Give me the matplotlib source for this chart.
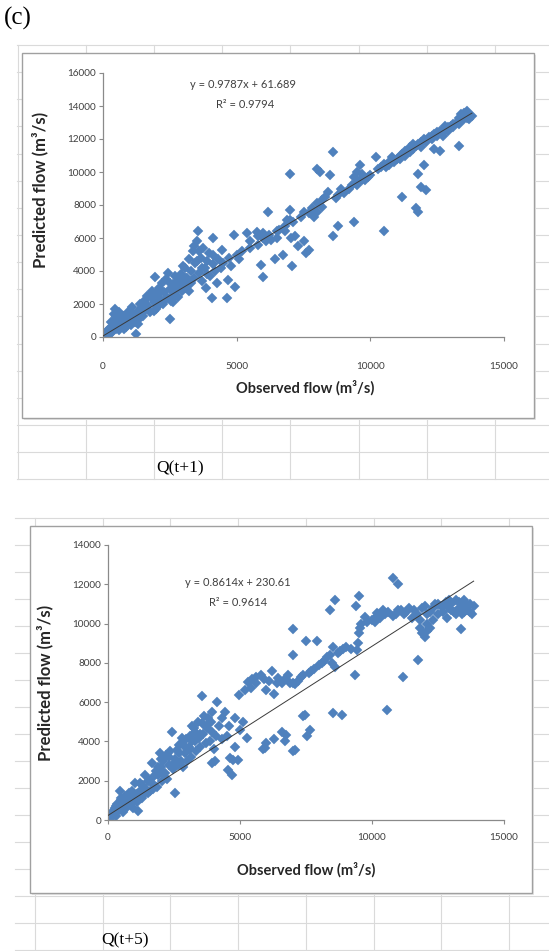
import matplotlib
matplotlib.use("Agg")
import matplotlib.pyplot as plt
from matplotlib.patches import Rectangle

# ---------------- data: Q(t+1) ----------------
obs1 = [50,100,150,200,250,300,350,400,420,450,480,500,550,600,650,700,750,800,850,900,950,1000,1050,1100,1150,1200,1250,1300,1350,1400,1450,1500,
        1550,1600,1650,1700,1750,1800,1850,1900,1950,2000,2050,2100,2150,2200,2250,2300,2350,2400,2450,2500,2500,2550,2600,2650,2700,2750,2800,2850,2900,2950,3000,
        3050,3100,3150,3200,3250,3300,3350,3400,3450,3500,3550,3600,3650,3700,3750,3800,3850,3900,3950,4000,4070,4100,4130,4200,4250,4300,4400,4450,4500,4630,4690,4700,4800,4900,4940,5000,5100,
        5200,5370,5500,5750,5800,5900,6000,6000,6100,6185,6200,6300,6430,6500,6600,6740,6800,6900,7000,7000,7050,7060,7100,7200,7300,7400,7500,7600,7700,7700,7800,7900,8000,8000,8100,8200,
        8300,8400,8500,8600,8600,8700,8800,8900,9000,9300,9400,9400,9500,9550,9600,9650,9700,9800,10000,10200,10300,10500,10500,10600,10700,10800,
        11000,11100,11200,11200,11300,11400,11500,11600,11700,11700,11800,11800,11800,11900,11900,12000,12000,12100,12100,12200,12300,12400,12400,12500,12600,12600,12700,12800,12900,13000,13100,13200,13300,13300,13400,13500,13600,13700,13800,
        300,500,700,900,1100,1300,1500,1700,1900,2100,2300,2500,2700,2900,3100,3300,3500,3700,3900,4100,3400,3600,3200,2600,2000,1200,800,600,2800,3000,
        5500,6000,6500,7000,7500,8000,5800,6800,8200,8800,9200,9500,9700,9900,
        10400,10900,11300,11500,11900,12100,12300,12500,12700,12900,13100,13300,13500,13700,13400,13600,12800,11600,11100,10700]
pred1 = [100,300,50,400,200,600,300,900,1400,1700,1200,500,800,400,1000,700,1300,900,600,1200,1500,1000,700,1800,1300,900,200,1600,1100,2000,1500,1300,
         2200,1700,2500,1900,1500,2400,2800,2100,3650,2600,1900,3000,2300,3300,2000,2700,3500,2400,3900,1100,2900,2200,3200,2600,3700,2900,2400,3400,3800,2800,3200,
         4200,3000,3600,4700,3300,4000,5200,3600,4500,5800,6400,3900,4800,3400,5400,4200,3000,4600,5100,3700,2350,4400,6000,4000,3300,4700,4200,5300,4500,2340,3440,4800,4300,6200,3050,5000,4700,
         5200,6300,5400,6380,5600,4350,3650,6000,5800,7600,6200,5900,4700,6400,6500,5000,6700,7100,9900,7700,6000,4300,7000,6100,5500,7300,5800,5100,7500,5300,7800,7300,8100,10200,10000,7900,
         8500,8800,9800,11200,6100,8400,6700,9000,8700,9200,7000,9700,10000,9400,10400,9600,9900,9500,9800,10900,10200,6400,10500,10300,10600,10900,
         10800,11000,8500,11100,11300,11200,11500,11400,7800,11600,7600,9900,11700,9100,11800,10400,12000,8900,11900,12100,12200,11400,12300,12200,11300,12500,12400,12600,12700,12800,12900,13000,11600,13300,13100,13600,13300,13500,13400,
         900,1300,1100,700,1400,800,1900,2400,1600,2600,2200,3300,2500,3100,3600,3300,4600,4200,3800,5000,5500,5200,2800,2100,1700,1200,500,1500,3600,4300,
         5800,6300,6000,7100,7600,7600,6100,6400,8300,8600,9000,9200,9500,9700,
         10300,10600,11000,11200,11500,11800,12000,12400,12200,12500,12700,12900,13200,13200,13500,13700,12800,11700,10800,10400]

# ---------------- data: Q(t+5) ----------------
obs5 = [50,100,150,200,250,300,350,400,450,480,500,550,600,650,700,750,800,850,900,950,1000,1020,1100,1150,1200,1250,1300,1350,1400,1450,1500,
        1550,1600,1660,1700,1750,1800,1850,1900,1970,2000,2050,2100,2150,2200,2250,2300,2350,2410,2450,2540,2550,2600,2650,2700,2750,2790,2850,2900,2950,3000,
        3050,3100,3150,3200,3250,3300,3350,3400,3450,3500,3550,3550,3600,3650,3700,3750,3800,3850,3930,3930,3950,4000,4050,4120,4200,4300,4430,4500,4560,4640,4700,4750,4800,4930,4950,5000,5100,
        5250,5300,5400,5450,5600,5800,5890,5940,6000,6000,6100,6200,6300,6300,6450,6580,6600,6700,6760,6830,6900,7000,7000,7000,7080,7100,7200,7300,7400,7460,7500,7530,7600,7650,7800,7900,8000,8200,8300,
        8400,8500,8540,8540,8600,8600,8700,8850,8900,9000,9200,9350,9400,9420,9480,9500,9500,9550,9600,9740,9800,10000,10110,10180,10300,10400,10550,10600,10800,10800,11000,11000,
        11190,11200,11400,11500,11600,11760,11800,11900,12000,12000,12100,12200,12300,12400,12500,12600,12700,12800,12830,12900,13000,13100,13200,13300,13380,13400,13500,13600,13700,13850,13800,
        300,500,700,900,1100,1300,1500,1700,1900,2100,2300,2500,2700,2900,3100,3300,3500,3700,3900,4100,4300,4600,4800,1200,2000,2800,3200,
        5200,5600,5900,6400,6700,7000,7400,7700,8100,8400,8800,
        10200,10500,10900,11100,11300,11700,11900,12100,12300,12500,12700,13000,13200,13400,13600,13700,13500,13300,12900,12200,12100,11800]
pred5 = [200,100,400,300,600,200,800,500,1500,1100,700,400,900,1200,600,1000,1400,800,1100,600,1300,1900,900,440,1500,1100,1800,1300,2300,1600,1400,
         2000,1500,2900,2200,1800,2500,1700,2300,3400,2700,2000,3000,2400,3300,2100,2800,3500,4500,2600,1350,3100,3550,2800,3800,3000,3900,2700,3400,4100,3000,
         3700,4300,3200,4000,4700,4500,3500,5000,4200,3700,6300,4920,4400,5300,3900,4700,5200,4000,5500,2900,4500,3600,3000,6000,4800,4100,5500,4300,2530,3160,2300,3060,3700,3070,6350,4600,5000,
         4150,7040,6700,7200,7000,7400,3630,3670,3900,6600,7100,7600,4100,6400,7250,4480,7000,4040,4330,7400,7000,9700,8400,3500,3560,6900,7100,7300,5300,5340,9100,4300,7500,4600,7700,9100,7900,8100,8300,
         10700,8000,8820,5430,11200,7800,8500,5340,8700,8800,8700,7380,10900,8660,9000,11400,9500,9800,10000,10350,10100,10200,10100,10520,10300,10700,5600,10600,12300,10400,12000,10700,
         7290,10500,10800,10300,10700,8140,10200,9500,9300,10900,10000,10600,10200,11000,10500,10900,10600,11100,10300,10800,11000,10600,11200,10800,9700,11000,10600,10700,11000,10900,10500,
         700,1000,900,1500,1300,1100,2000,1600,2700,2400,3200,2900,3400,3700,3600,4000,4400,4800,5000,4300,5200,4800,5200,1900,3100,4200,4800,
         6600,7300,7200,7000,7200,7000,7400,7600,8000,8400,8600,
         10400,10500,10500,10700,10600,10500,10800,10500,10800,11000,10900,10700,10500,10500,10900,10600,11200,11100,11200,9800,9600,9800]

# trendline coefficients as printed on the charts
slope1, icpt1 = 0.9787, 61.689
slope5, icpt5 = 0.8614, 230.61
eq1 = ["y = 0.9787x + 61.689", "R² = 0.9794"]
eq5 = ["y = 0.8614x + 230.61", "R² = 0.9614"]

yticks1 = list(range(0, 16001, 2000))
yticks5 = list(range(0, 14001, 2000))
xticks = [0, 5000, 10000, 15000]

W, H = 549, 951
fig = plt.figure(figsize=(W / 100, H / 100), dpi=100)
fig.patch.set_facecolor("white")

bg = fig.add_axes([0, 0, 1, 1], zorder=0)
bg.set_xlim(0, W)
bg.set_ylim(H, 0)
bg.axis("off")

gridc = "#dadada"
# upper sheet grid
rh1 = (425 - 45) / 14
for k in range(17):
    y = 45 + rh1 * k
    bg.plot([17, W], [y, y], color=gridc, lw=0.8)
for k in range(9):
    x = 17.5 + 68.2 * k
    bg.plot([x, x], [45, 479], color=gridc, lw=0.8)
# lower sheet grid
for k in range(17):
    y = 518 + 27 * k
    bg.plot([15, W], [y, y], color=gridc, lw=0.8)
for k in range(9):
    x = 35 + 67.7 * k
    bg.plot([x, x], [518, H], color=gridc, lw=0.8)

# chart boxes
for (x0, y0, x1, y1) in [(22, 53, 534, 418), (30, 526, 532, 893)]:
    bg.add_patch(Rectangle((x0 + 2, y0 + 2), x1 - x0, y1 - y0, facecolor="#e6e6e6", edgecolor="none", zorder=2))
    bg.add_patch(Rectangle((x0, y0), x1 - x0, y1 - y0, facecolor="white", edgecolor="#a0a0a0", lw=1.0, zorder=3))

FONT = "Lato"
tick_c = "#404040"
mk_c = "#4F81BD"


def px2fig(x0, y0, x1, y1):
    return [x0 / W, 1 - y1 / H, (x1 - x0) / W, (y1 - y0) / H]


def make(rect, obs, pred, slope, icpt, ymax, yticks, xpad):
    ax = fig.add_axes(rect, zorder=2)
    ax.patch.set_alpha(0)
    ax.plot(obs, pred, linestyle="none", marker="D", ms=5.0, color=mk_c, mec=mk_c, mew=0.3, zorder=2)
    xl = [0, max(obs)]
    ax.plot(xl, [slope * v + icpt for v in xl], color="#3a3a3a", lw=0.7, zorder=3)
    ax.set_xlim(0, 15000)
    ax.set_ylim(0, ymax)
    ax.set_xticks(xticks)
    ax.set_yticks(yticks)
    ax.set_xticklabels([str(v) for v in xticks], fontsize=7.2, color=tick_c, family=FONT)
    ax.set_yticklabels([str(v) for v in yticks], fontsize=7.2, color=tick_c, family=FONT)
    for s in ["top", "right"]:
        ax.spines[s].set_visible(False)
    for s in ["left", "bottom"]:
        ax.spines[s].set_color("#8a8a8a")
        ax.spines[s].set_linewidth(0.9)
    ax.tick_params(axis="y", direction="out", length=3, width=0.8, color="#8a8a8a", pad=2)
    ax.tick_params(axis="x", direction="out", length=3, width=0.8, color="#8a8a8a", pad=xpad)
    return ax


ax1 = make(px2fig(103, 73, 504, 337), obs1, pred1, slope1, icpt1, 16000, yticks1, 15)
ax5 = make(px2fig(108, 545, 504, 820), obs5, pred5, slope5, icpt5, 14000, yticks5, 6)

lab_c = "#262626"
# axis labels
bg.text(305, 388, "Observed flow (m³/s)", ha="center", va="center", fontsize=10.5, fontweight="bold", color=lab_c, family=FONT, zorder=5)
bg.text(40, 190, "Predicted flow (m³/s)", ha="center", va="center", rotation=90, fontsize=12, fontweight="bold", color=lab_c, family=FONT, zorder=5)
bg.text(306, 870, "Observed flow (m³/s)", ha="center", va="center", fontsize=10.5, fontweight="bold", color=lab_c, family=FONT, zorder=5)
bg.text(45, 683, "Predicted flow (m³/s)", ha="center", va="center", rotation=90, fontsize=12, fontweight="bold", color=lab_c, family=FONT, zorder=5)

# equations
bg.text(243, 84, eq1[0], ha="center", va="center", fontsize=8, color=tick_c, family=FONT, zorder=5)
bg.text(245, 104, eq1[1], ha="center", va="center", fontsize=8, color=tick_c, family=FONT, zorder=5)
bg.text(238, 583, eq5[0], ha="center", va="center", fontsize=8, color=tick_c, family=FONT, zorder=5)
bg.text(238, 603, eq5[1], ha="center", va="center", fontsize=8, color=tick_c, family=FONT, zorder=5)

# panel and captions
bg.text(4, 18, "(c)", ha="left", va="center", fontsize=18, color="black", family="Liberation Serif", zorder=5)
bg.text(180, 468, "Q(t+1)", ha="center", va="center", fontsize=12.5, color="black", family="Liberation Serif", zorder=5)
bg.text(125, 940, "Q(t+5)", ha="center", va="center", fontsize=12.5, color="black", family="Liberation Serif", zorder=5)

fig.savefig("out.png", dpi=100, facecolor="white")
